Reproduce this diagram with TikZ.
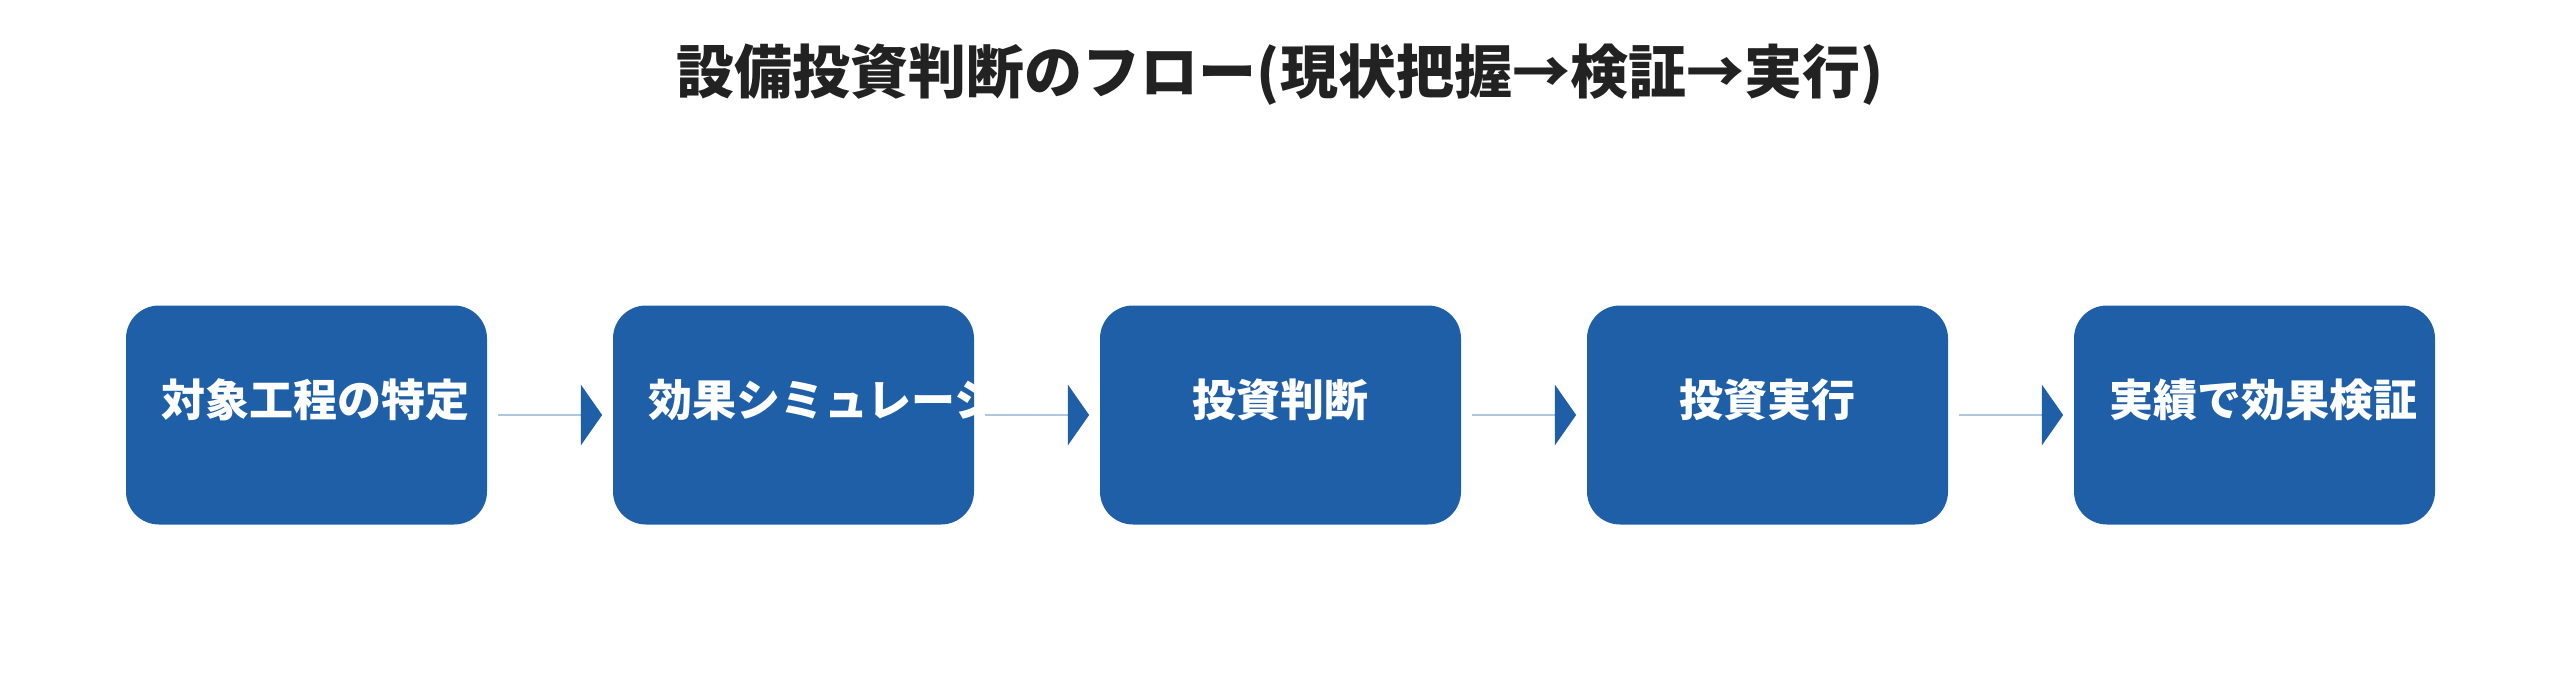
\documentclass[tikz,border=0pt]{standalone}
\usepackage{fontspec}
\setmainfont{Noto Sans CJK JP}
\usepackage{tikz}
\usetikzlibrary{positioning,shapes.arrows}
\definecolor{stepblue}{HTML}{1F5FA8}
\definecolor{titlegray}{HTML}{222222}
\tikzset{
  stepbox/.style={fill=stepblue,rounded corners=33pt,minimum width=361pt,minimum height=219pt,inner sep=0pt},
  steptext/.style={text=white,font=\bfseries\fontsize{44}{60}\selectfont,align=center,text width=290pt},
  flowarrow/.style={fill=stepblue,single arrow,minimum width=61pt,minimum height=104pt,
    single arrow head extend=16pt,single arrow head indent=0pt,inner sep=0pt,single arrow tip angle=110}
}
\begin{document}
\begin{tikzpicture}[x=1pt,y=-1pt]

    \useasboundingbox (0,0) rectangle (2560,685);

    \node[text=titlegray,font=\bfseries\fontsize{58}{60}\selectfont] (title) at (1280,75)
    {設備投資判断のフロー(現状把握→検証→実行)};

    \foreach \i/\lbl in {1/対象工程の特定,2/効果シミュレーション,3/投資判断,4/投資実行,5/実績で効果検証}
    {
      \node[stepbox] (s\i) at ({306.5+487*(\i-1)},415) {};
      \node[steptext] (t\i) at ({306.5+487*(\i-1)},400) {\lbl};
    }

    \foreach \i [evaluate=\i as \x using {550+487*(\i-1)}] in {1,2,3,4}
    {
      \node[flowarrow] (a\i) at (\x,415) {};
    }

\end{tikzpicture}
\end{document}
